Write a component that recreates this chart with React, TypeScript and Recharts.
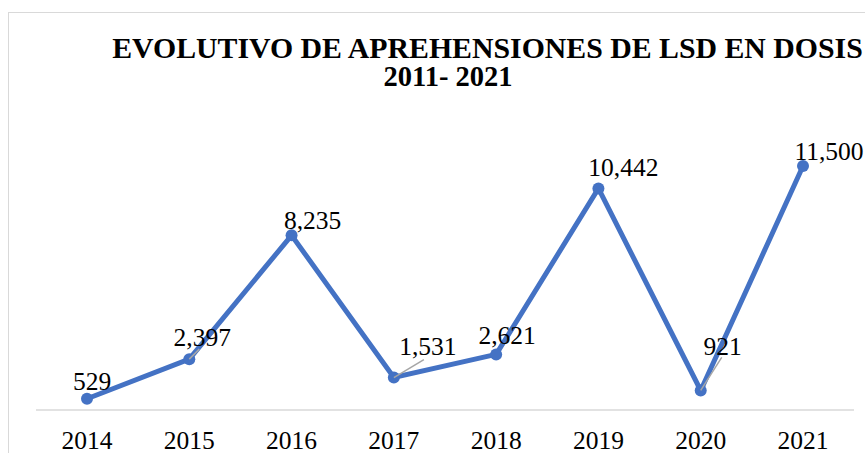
import React from "react";
import { LineChart, Line, XAxis, YAxis, LabelList } from "recharts";

const years = ["2014", "2015", "2016", "2017", "2018", "2019", "2020", "2021"];
const doses = [529, 2397, 8235, 1531, 2621, 10442, 921, 11500];
const titleLine1 = "EVOLUTIVO DE APREHENSIONES DE LSD EN DOSIS";
const titleLine2 = "2011- 2021";

// label placement (relative to point): center dx, baseline dy, optional leader line end
const labelDx = [5, 13, 21, 34, 11, 25, 22, 26];
const labelDy = [-9, -13, -6, -23, -10, -12, -35, -6];
const leaderEnd: (null | [number, number])[] = [null, [10, -10], null, [30, -18], null, null, [21, -33], null];

const data = years.map((y, i) => ({ year: y, value: doses[i] }));

const FONT = '"Liberation Serif", "Times New Roman", serif';
const BLUE = "#4472C4";

const DataLabel = (props: any) => {
  const { x, y, index, value } = props;
  const le = leaderEnd[index];
  return (
    <g>
      {le && (
        <line x1={x} y1={y} x2={x + le[0]} y2={y + le[1]} stroke="#a6a6a6" strokeWidth={1.5} />
      )}
      <text
        x={x + labelDx[index]}
        y={y + labelDy[index]}
        textAnchor="middle"
        fontFamily={FONT}
        fontSize={25.5}
        fill="#000"
      >
        {Number(value).toLocaleString("en-US")}
      </text>
    </g>
  );
};

const Tick = (props: any) => {
  const { x, y, payload } = props;
  return (
    <text x={x} y={y + 39} textAnchor="middle" fontFamily={FONT} fontSize={25.5} fill="#000">
      {payload.value}
    </text>
  );
};

export default function App() {
  return (
    <div
      style={{
        position: "absolute",
        left: 8,
        top: 12,
        width: 870,
        height: 450,
        borderLeft: "1px solid #d9d9d9",
        borderTop: "1px solid #d9d9d9",
        background: "#fff",
        overflow: "hidden",
      }}
    >
      <svg
        width={857}
        height={100}
        style={{ position: "absolute", left: 0, top: 0 }}
      >
        <text
          x={487.5 - 9}
          y={58 - 13}
          textAnchor="middle"
          fontFamily={FONT}
          fontWeight="bold"
          fontSize={29.8}
          fill="#000"
        >
          {titleLine1}
        </text>
        <text
          x={448 - 9}
          y={86 - 13}
          textAnchor="middle"
          fontFamily={FONT}
          fontWeight="bold"
          fontSize={28.5}
          fill="#000"
        >
          {titleLine2}
        </text>
      </svg>
      <div style={{ position: "absolute", left: 0, top: 0 }}>
        <LineChart
          width={857}
          height={441}
          data={data}
          margin={{ top: 100, right: 12, bottom: 4, left: 27 }}
        >
          <XAxis
            dataKey="year"
            axisLine={{ stroke: "#d9d9d9", strokeWidth: 1.5 }}
            tickLine={false}
            tickSize={0}
            tickMargin={0}
            height={40}
            tick={<Tick />}
            interval={0}
            padding={{ left: 51, right: 51 }}
          />
          <YAxis hide domain={[0, 14000]} />
          <Line
            type="linear"
            dataKey="value"
            stroke={BLUE}
            strokeWidth={5}
            dot={{ r: 6, fill: BLUE, stroke: BLUE, strokeWidth: 0 }}
            isAnimationActive={false}
          >
            <LabelList dataKey="value" content={<DataLabel />} />
          </Line>
        </LineChart>
      </div>
    </div>
  );
}
